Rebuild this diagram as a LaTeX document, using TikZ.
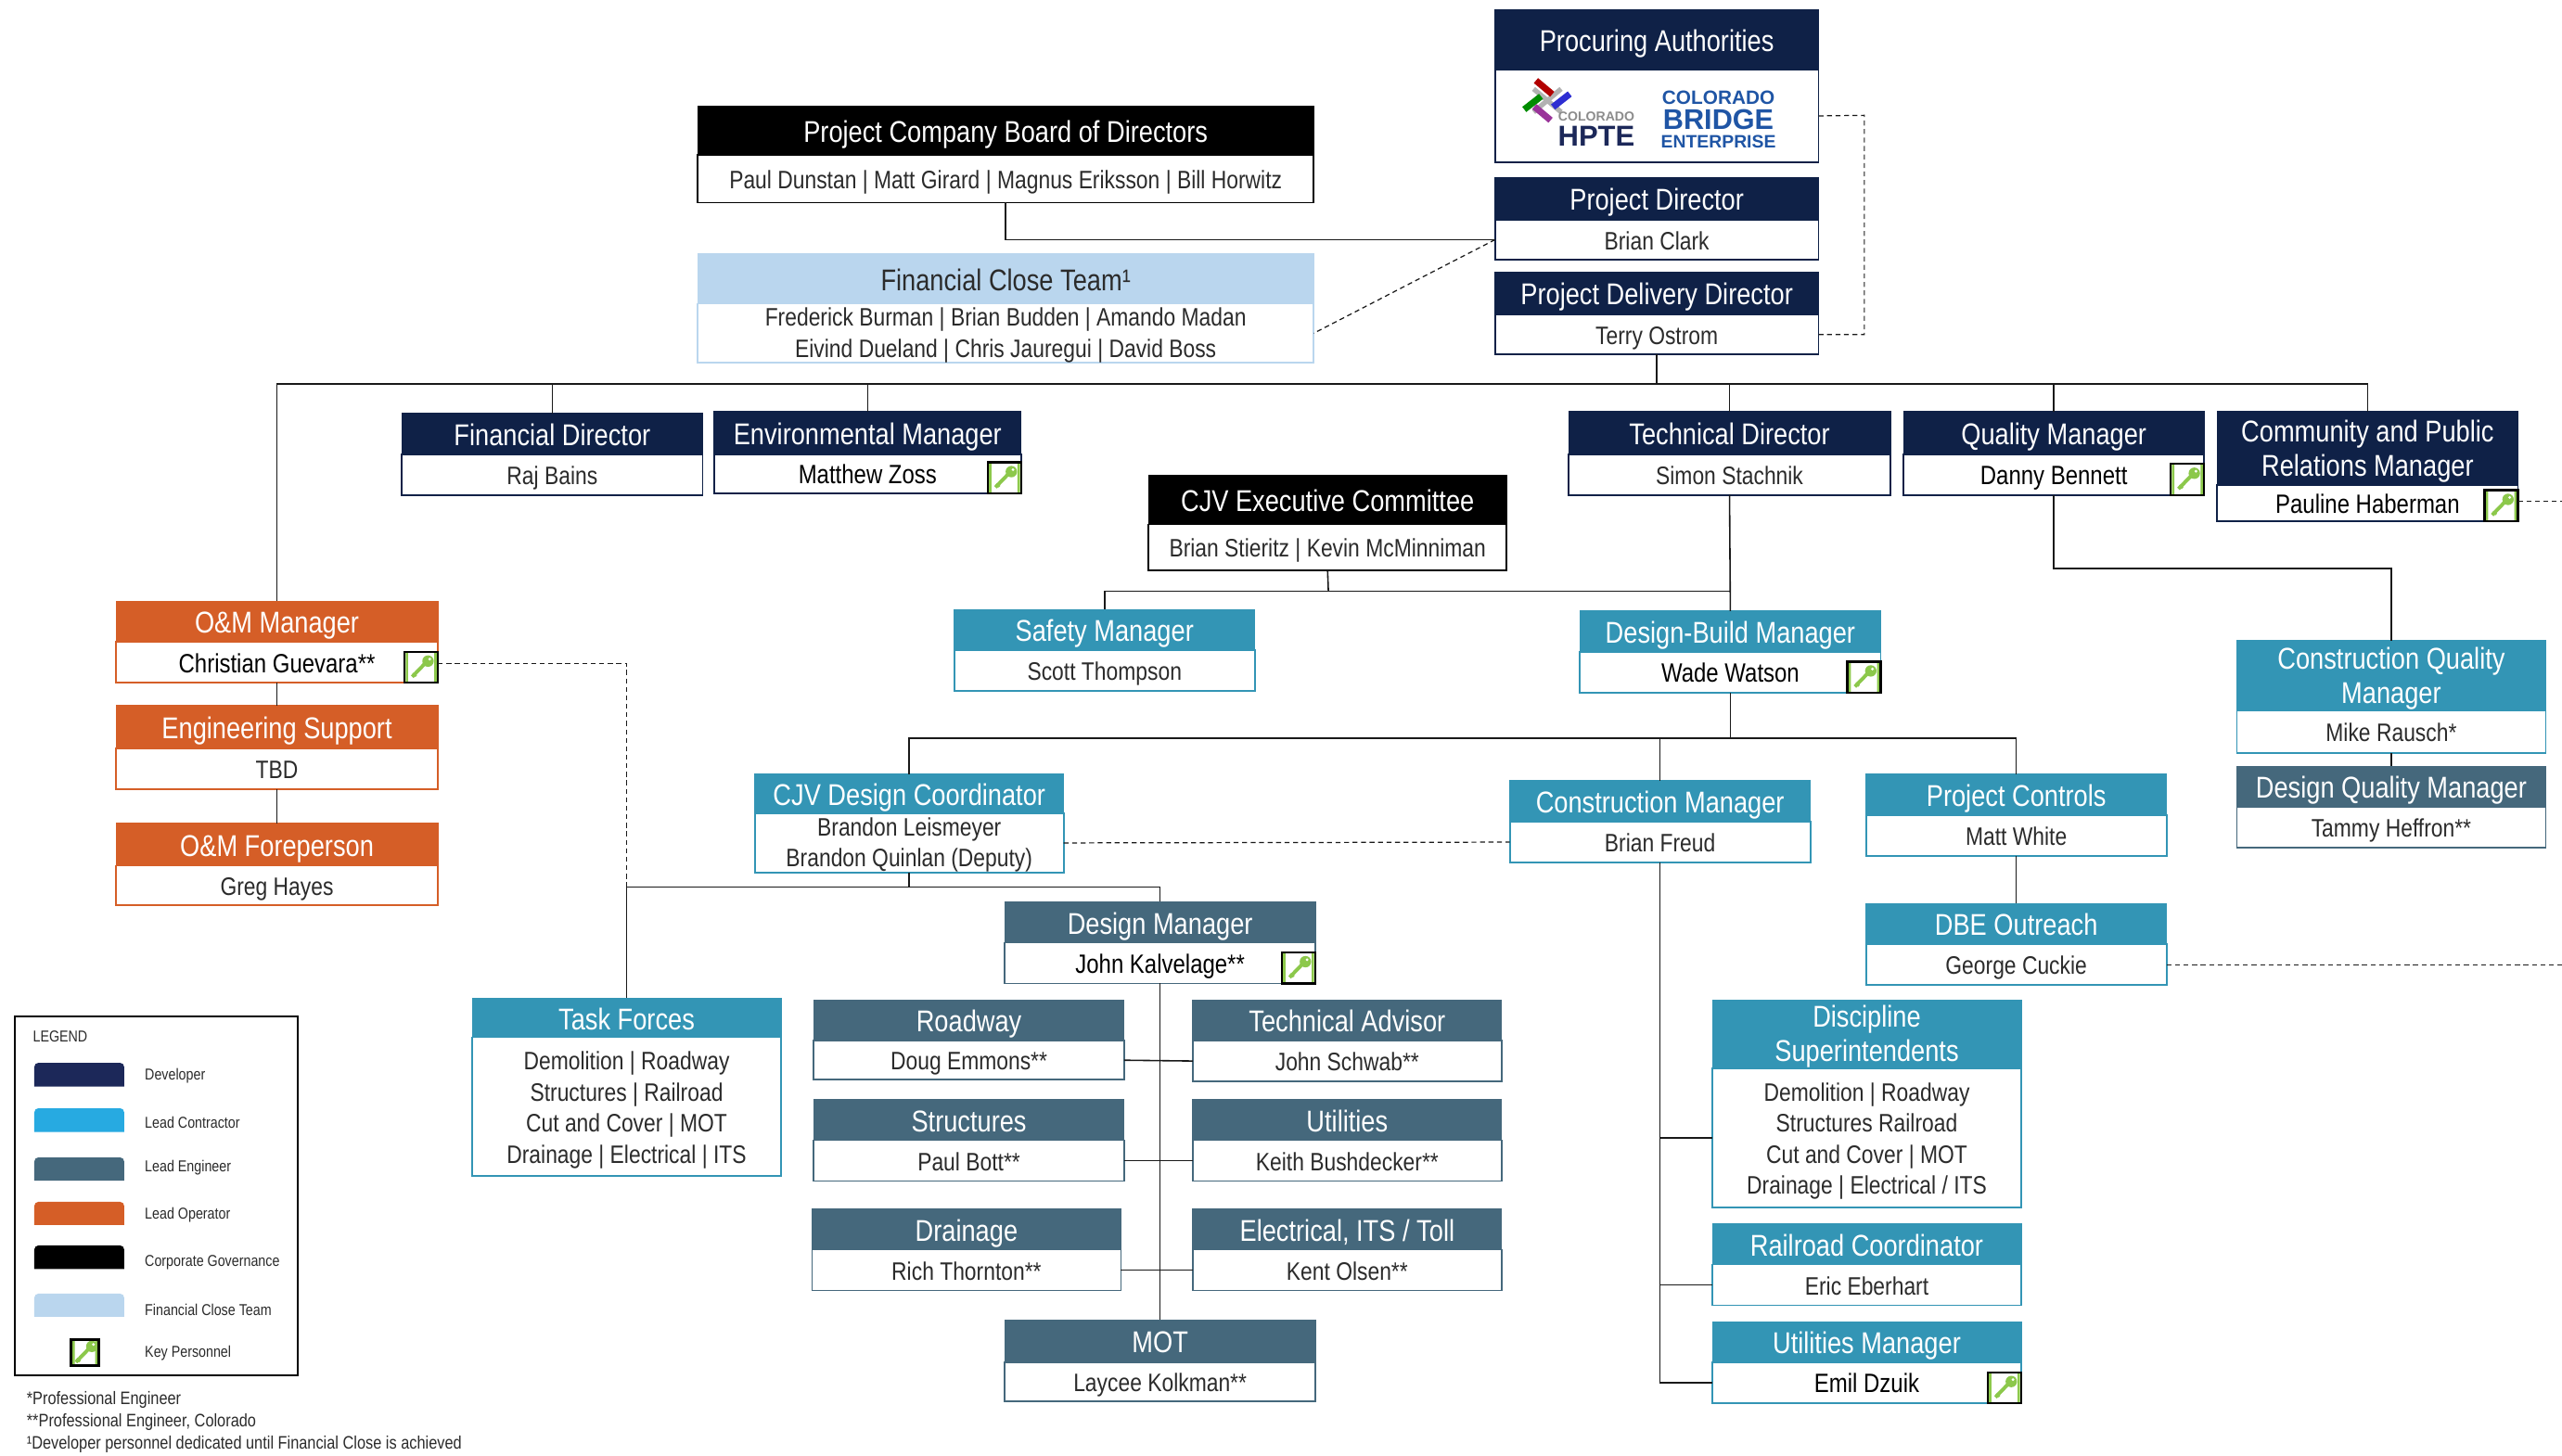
\documentclass[tikz,border=0pt]{standalone}
\usepackage{fontspec}
\setmainfont[FakeStretch=0.84]{Liberation Sans}
\newfontfamily\logofont[FakeStretch=1.0]{Liberation Sans}
\usepackage{tikz}
\usetikzlibrary{positioning,calc}
\definecolor{navyB}{HTML}{0F2147}
\definecolor{tealB}{HTML}{3395B5}
\definecolor{slateB}{HTML}{45687C}
\definecolor{orangeB}{HTML}{D55E27}
\definecolor{paleB}{HTML}{BAD6EE}
\definecolor{devB}{HTML}{1C2859}
\definecolor{leadB}{HTML}{27AAE1}
\definecolor{keyG}{HTML}{8CC84B}
\definecolor{logoB}{HTML}{1F55A5}
\definecolor{nameG}{HTML}{2B2B2B}
\newcommand\headstrutA{\rule{0pt}{18.4pt}}
\newcommand\headstrutB{\rule[-4pt]{0pt}{4pt}}
\newcommand\bodystrutA{\rule{0pt}{15.6pt}}
\newcommand\bodystrutB{\rule[-3.4pt]{0pt}{3.4pt}}
\newcommand\headfirst{\rule{0pt}{17pt}}% first line of a wrapped title
\newcommand\bodyfirst{\rule{0pt}{15.6pt}}% first line of a long list of names
\newcommand\shortfirst{\rule{0pt}{13.8pt}}% first line in a two line name box
\newcommand\keyname[1]{{\fontsize{16.2}{19}\selectfont\textcolor{black}{#1}}}
\tikzstyle{link} = [line width=0.9pt, black!90]
\tikzstyle{dashlink} = [line width=0.7pt, black!90, dash pattern=on 3pt off 2.2pt]
\tikzstyle{headbox} = [rectangle, inner sep=0pt, outer sep=0pt, line width=0.6pt, text=white, align=center, font=\fontsize{18.4}{21}\selectfont, execute at begin node=\headstrutA, execute at end node=\headstrutB]
\tikzstyle{bodybox} = [rectangle, inner sep=0pt, outer sep=0pt, line width=1pt, fill=white, text=nameG, align=center, font=\fontsize{15.45}{19}\selectfont, execute at begin node=\bodystrutA, execute at end node=\bodystrutB]
\tikzstyle{lgtext} = [inner sep=0pt, anchor=west, text=nameG, font=\fontsize{9.65}{11}\selectfont]
\tikzstyle{notetext} = [inner sep=0pt, anchor=west, text=nameG, font=\fontsize{11.05}{12}\selectfont]
\newcommand\ppbb{path picture bounding box}
\tikzset{
	keybox/.style = {rectangle, draw=black, line width=1.3pt, fill=white, inner sep=0pt, outer sep=0pt,
		minimum width=20.5pt, minimum height=19pt,
		path picture={
			\draw [keyG, line width=1.5pt, rounded corners=2pt]
				([shift={(1.5,-1.5)}] \ppbb.north west) rectangle ([shift={(-1.5,1.5)}] \ppbb.south east);
			\draw [keyG, line width=2.2pt] ([shift={(-5.5,5.8)}] \ppbb.center) -- ([shift={(3,-3)}] \ppbb.center);
			\draw [keyG, line width=1.5pt] ([shift={(-5,3.6)}] \ppbb.center) -- ([shift={(-3,5.4)}] \ppbb.center);
			\fill [keyG] ([shift={(4.2,-3.8)}] \ppbb.center) circle (3.5pt);
			\fill [white] ([shift={(5.2,-5)}] \ppbb.center) circle (0.9pt);
		},% end of path picture
	}
}
% name, left, right, top, split, bottom, colour, title, person
\newcommand\orgbox[9]{
	\pgfmathsetmacro\boxw{#3-#2}
	\pgfmathsetmacro\boxx{(#2+#3)/2}
	\pgfmathsetmacro\headh{#5-#4}
	\pgfmathsetmacro\heady{(#4+#5)/2}
	\pgfmathsetmacro\bodyh{#6-#5}
	\pgfmathsetmacro\bodyy{(#5+#6)/2}
	\node (#1) [bodybox, draw=#7, minimum width=\boxw pt, minimum height=\bodyh pt] at (\boxx,\bodyy) {#9};
	\node (#1T) [headbox, fill=#7, draw=#7, minimum width=\boxw pt, minimum height=\headh pt] at (\boxx,\heady) {#8};
}
\newcommand\lgswatch[3]{
	\fill [#1] (21,#3) [rounded corners=2.5pt] -- (21,#2) -- (76,#2) [sharp corners] -- (76,#3) -- cycle;
}
\begin{document}
\begin{tikzpicture}[x=1pt,y=-1pt]
\useasboundingbox (0,0) rectangle (1568,890.75);
%----------------------------------------------------------------------------
% Placement of boxes
\orgbox{proc}{915}{1113}{6}{42.6}{99.3}{navyB}{Procuring Authorities}{}
\orgbox{pd}{915}{1113}{108.8}{134.4}{159}{navyB}{Project Director}{Brian Clark}
\orgbox{pdd}{915}{1113}{166.5}{192.6}{216.9}{navyB}{Project Delivery Director}{Terry Ostrom}
\orgbox{board}{427}{804}{65}{95}{124}{black}{Project Company Board of Directors}{Paul Dunstan | Matt Girard | Magnus Eriksson | Bill Horwitz}
\orgbox{fct}{427}{804}{155}{186}{222}{paleB}{\textcolor{nameG}{Financial Close Team¹}}{\shortfirst Frederick Burman | Brian Budden | Amando Madan\\Eivind Dueland | Chris Jauregui | David Boss}

\orgbox{fd}{246}{430}{253}{278}{303}{navyB}{Financial Director}{Raj Bains}
\orgbox{env}{437}{625}{252}{278}{302}{navyB}{Environmental Manager}{\keyname{Matthew Zoss}}
\orgbox{exec}{703}{922}{291}{321}{349}{black}{CJV Executive Committee}{Brian Stieritz | Kevin McMinniman}
\orgbox{td}{960}{1157}{252}{278}{303}{navyB}{Technical Director}{Simon Stachnik}
\orgbox{qm}{1165}{1349}{252}{278}{303}{navyB}{Quality Manager}{\keyname{Danny Bennett}}
\orgbox{comm}{1357}{1541}{252}{297}{319}{navyB}{\headfirst Community and Public\\Relations Manager}{\keyname{Pauline Haberman}}

\orgbox{om}{71}{268}{368}{393}{418}{orangeB}{O\&M Manager}{\keyname{Christian Guevara**}}
\orgbox{es}{71}{268}{432}{458}{483}{orangeB}{Engineering Support}{TBD}
\orgbox{fp}{71}{268}{504}{530}{554}{orangeB}{O\&M Foreperson}{Greg Hayes}

\orgbox{safety}{584}{768}{373}{398}{423}{tealB}{Safety Manager}{Scott Thompson}
\orgbox{dbm}{967}{1151}{374}{399}{424}{tealB}{Design-Build Manager}{\keyname{Wade Watson}}
\orgbox{cqm}{1369}{1558}{392}{435}{461}{tealB}{\headfirst Construction Quality\\Manager}{Mike Rausch*}
\orgbox{dqm}{1369}{1558}{469}{494}{519}{slateB}{Design Quality Manager}{Tammy Heffron**}
\orgbox{cdc}{462}{651}{474}{498}{534}{tealB}{CJV Design Coordinator}{\shortfirst Brandon Leismeyer\\Brandon Quinlan (Deputy)}
\orgbox{cm}{924}{1108}{478}{503}{528}{tealB}{Construction Manager}{Brian Freud}
\orgbox{pc}{1142}{1326}{474}{499}{524}{tealB}{Project Controls}{Matt White}
\orgbox{dbe}{1142}{1326}{553}{578}{603}{tealB}{DBE Outreach}{George Cuckie}

\orgbox{dm}{615}{805}{552}{577}{602}{slateB}{Design Manager}{\keyname{John Kalvelage**}}
\orgbox{tf}{289}{478}{611}{635}{720}{tealB}{Task Forces}{\bodyfirst Demolition | Roadway\\Structures | Railroad\\Cut and Cover | MOT\\Drainage | Electrical | ITS}
\orgbox{road}{498}{688}{612}{637}{661}{slateB}{Roadway}{Doug Emmons**}
\orgbox{ta}{730}{919}{612}{637}{662}{slateB}{Technical Advisor}{John Schwab**}
\orgbox{struct}{498}{688}{673}{698}{723}{slateB}{Structures}{Paul Bott**}
\orgbox{util}{730}{919}{673}{698}{723}{slateB}{Utilities}{Keith Bushdecker**}
\orgbox{drain}{497}{686}{740}{765}{790}{slateB}{Drainage}{Rich Thornton**}
\orgbox{elec}{730}{919}{740}{765}{790}{slateB}{Electrical, ITS / Toll}{Kent Olsen**}
\orgbox{mot}{615}{805}{808}{834}{858}{slateB}{MOT}{Laycee Kolkman**}

\orgbox{disc}{1048}{1237}{612}{654}{739}{tealB}{\headfirst Discipline\\Superintendents}{\bodyfirst Demolition | Roadway\\Structures Railroad\\Cut and Cover | MOT\\Drainage | Electrical / ITS}
\orgbox{rail}{1048}{1237}{749}{774}{799}{tealB}{Railroad Coordinator}{Eric Eberhart}
\orgbox{um}{1048}{1237}{809}{834}{859}{tealB}{Utilities Manager}{\keyname{Emil Dzuik}}

%----------------------------------------------------------------------------
% Logos
\fill [black!30, rotate around={-40:(947,61.5)}] (936,60) rectangle (958,63);
\fill [black!30, rotate around={40:(947,61.5)}] (936,60) rectangle (958,63);
\fill [red!70!black, rotate around={-40:(945,53.5)}] (938.5,51.5) rectangle (951.5,55.5);
\fill [blue!65!gray, rotate around={38:(955.6,61.5)}] (949.1,59.5) rectangle (962.1,63.5);
\fill [green!55!black, rotate around={38:(938,63)}] (931.5,61) rectangle (944.5,65);
\fill [violet!80!white, rotate around={-40:(944,69.4)}] (937.5,67.4) rectangle (950.5,71.4);
\node (hpteA) [inner sep=0pt, text=black!45, font=\logofont\bfseries\fontsize{8}{9}\selectfont] at (977,71.3) {COLORADO};
\node (hpteB) [inner sep=0pt, text=devB, font=\logofont\bfseries\fontsize{17.6}{19}\selectfont] at (977,83.2) {HPTE};
\node (cbeA) [inner sep=0pt, text=logoB, font=\logofont\bfseries\fontsize{11.8}{12}\selectfont] at (1051.7,59.6) {COLORADO};
\node (cbeB) [inner sep=0pt, text=logoB, font=\logofont\bfseries\fontsize{17.4}{18}\selectfont] at (1051.7,73) {BRIDGE};
\node (cbeC) [inner sep=0pt, text=logoB, font=\logofont\bfseries\fontsize{11}{12}\selectfont] at (1051.7,86.5) {ENTERPRISE};

%----------------------------------------------------------------------------
% Key personnel
\node (envKey) [keybox, anchor=south east] at (env.south east) {};
\node (qmKey) [keybox, anchor=south east] at (qm.south east) {};
\node (commKey) [keybox, anchor=south east] at (comm.south east) {};
\node (omKey) [keybox, anchor=south east] at (om.south east) {};
\node (dbmKey) [keybox, anchor=south east] at (dbm.south east) {};
\node (dmKey) [keybox, anchor=south east] at (dm.south east) {};
\node (umKey) [keybox, anchor=south east] at (um.south east) {};

%----------------------------------------------------------------------------
% Lines
\coordinate (topBus) at (1014,235);
\coordinate (execBus) at (813,362);
\coordinate (dbBus) at (1059,452);
\coordinate (cdcBus) at (556.5,543);
\coordinate (procTurn) at (1141,70.6);
\coordinate (commEdge) at (1568,307);
\coordinate (dbeEdge) at (1568,590.5);
\coordinate (qmTurn) at (1257,348);

\draw [link] (board.south) |- (pd.west);
\draw [dashlink] (pd.west) -- (fct.east);
\draw [dashlink] (proc.east) -- (procTurn) |- (pdd.east);

\draw [link] (pdd.south) -- (topBus);
\draw [link] (topBus) -| (omT.north);
\draw [link] (topBus) -| (fdT.north);
\draw [link] (topBus) -| (envT.north);
\draw [link] (topBus) -| (tdT.north);
\draw [link] (topBus) -| (qmT.north);
\draw [link] (topBus) -| (commT.north);

\draw [link] (om.south) -- (esT.north);
\draw [link] (es.south) -- (fpT.north);
\draw [dashlink] ([yshift=2.5pt]omKey.east) -| (tfT.north);

\draw [link] (exec.south) -- (execBus);
\draw [link] (execBus) -| (safetyT.north);
\draw [link] (execBus) -| (dbmT.north);
\draw [link] (td.south) -- (dbmT.north);

\draw [link] (qm.south) -- (qmTurn) -| (cqmT.north);
\draw [link] (cqm.south) -- (dqmT.north);
\draw [dashlink] ([yshift=2.5pt]commKey.east) -- (commEdge);

\draw [link] (dbm.south) -- (dbBus);
\draw [link] (dbBus) -| (cdcT.north);
\draw [link] (dbBus) -| (cmT.north);
\draw [link] (dbBus) -| (pcT.north);
\draw [dashlink] (cdc.east) -- (cm.west);
\draw [link] (pc.south) -- (dbeT.north);
\draw [dashlink] (dbe.east) -- (dbeEdge);

\draw [link] (cdc.south) -- (cdcBus);
\draw [link] (cdcBus) -| (dmT.north);
\draw [link] (cdcBus) -| (tfT.north);
\draw [link] (dm.south) -- (motT.north);
\draw [link] (road.east) -- (ta.west);
\draw [link] (struct.east) -- (util.west);
\draw [link] (drain.east) -- (elec.west);

\draw [link] (cm.south) |- (disc.west);
\draw [link] (cm.south) |- (rail.west);
\draw [link] (cm.south) |- (um.west);

%----------------------------------------------------------------------------
% Legend
\node (legendBox) [draw=black, line width=1.2pt, inner sep=0pt, minimum width=173pt, minimum height=220pt] at (95.5,732) {};
\node (legendHead) [lgtext] at (20,634.5) {LEGEND};
\lgswatch{devB}{650.6}{665.1}
\lgswatch{leadB}{678.4}{693}
\lgswatch{slateB}{708.5}{722.8}
\lgswatch{orangeB}{735.7}{749.9}
\lgswatch{black}{762.4}{776.8}
\lgswatch{paleB}{791.9}{806}
\node (lgDev) [lgtext] at (88.5,658.8) {Developer};
\node (lgCon) [lgtext] at (88.5,687) {Lead Contractor};
\node (lgEng) [lgtext] at (88.5,715) {Lead Engineer};
\node (lgOp) [lgtext] at (88.5,743.8) {Lead Operator};
\node (lgGov) [lgtext] at (88.5,772.8) {Corporate Governance};
\node (lgFin) [lgtext] at (88.5,802) {Financial Close Team};
\node (lgKeyIcon) [keybox, minimum width=17pt, minimum height=16pt] at (52,828) {};
\node (lgKey) [lgtext] at (88.5,828.3) {Key Personnel};

% Notes
\node (noteA) [notetext] at (16.2,857) {*Professional Engineer};
\node (noteB) [notetext] at (16.2,870.6) {**Professional Engineer, Colorado};
\node (noteC) [notetext] at (16.2,884) {¹Developer personnel dedicated until Financial Close is achieved};
\end{tikzpicture}
\end{document}
